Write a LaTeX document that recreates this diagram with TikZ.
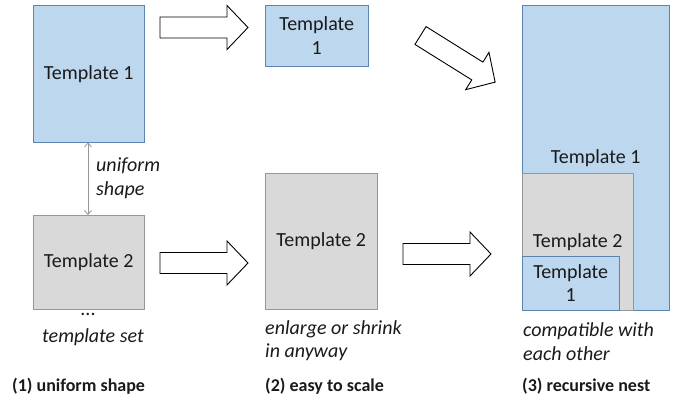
\documentclass[tikz,border=0pt]{standalone}
\usepackage{fontspec}
\setmainfont{Carlito}
\usepackage{tikz}
\usetikzlibrary{calc}
\usetikzlibrary{positioning}
\usetikzlibrary{arrows.meta}

\definecolor{tplblue}{HTML}{BDD7EE}
\definecolor{tplblueline}{HTML}{5B84B1}
\definecolor{tplgray}{HTML}{D9D9D9}
\definecolor{tplgrayline}{HTML}{979797}
\definecolor{tpltext}{HTML}{1A1A1A}

\begin{document}
\begin{tikzpicture}
  [
    x=1pt, y=-1pt,
    every node/.style = {inner sep=0pt, text=tpltext, font=\fontsize{20}{23.5}\selectfont},
    blueT/.style  = {draw=tplblueline, fill=tplblue, anchor=north west, align=center},
    grayT/.style  = {draw=tplgrayline, fill=tplgray, anchor=north west, align=center},
    note/.style   = {anchor=west, align=left, font=\fontsize{20}{23.5}\selectfont\itshape},
    caption/.style = {anchor=west, font=\fontsize{18}{22}\selectfont\bfseries},
    blockarrow/.pic = {
      \draw[line width=0.9pt, fill=white, line join=miter]
        (0,-10.5) -- (67,-10.5) -- (67,-22) -- (88,0) -- (67,22) -- (67,10.5) -- (0,10.5) -- cycle;
    },
  ]

  \useasboundingbox (0,0) rectangle (691,404);

  % (1) uniform shape
  \node (leftA) at (33,5)   [blueT, minimum width=111, minimum height=137] {Template 1};
  \node (leftB) at (33,215) [grayT, minimum width=111, minimum height=94] {Template 2};

  \draw[tplgrayline, line width=0.8pt, {Straight Barb[length=4pt,width=7pt]}-{Straight Barb[length=4pt,width=7pt]}]
    (leftA.south -| 88,0) -- (leftB.north -| 88,0);
  \node (uniform) at (96,178) [note] {uniform\\shape};

  \node (dots) at (88,314) {...};
  \node (tplset) at (42,337) [note] {template set};

  % (2) easy to scale
  \node (midA) at (265,5)   [blueT, minimum width=103, minimum height=61] {Template\\1};
  \node (midB) at (265,173) [grayT, minimum width=112, minimum height=136] {Template 2};
  \node (scale) at (265,340.5) [note] {enlarge or shrink\\in anyway};

  % (3) recursive nest
  \node (nestA) at (522,5)   [blueT, minimum width=147, minimum height=305] {Template 1};
  \node (nestB) at (522,173) [grayT, minimum width=111, minimum height=137] {Template 2};
  \node (nestC) at (522,256) [blueT, minimum width=97, minimum height=54] {Template\\1};
  \node (compat) at (523,341.5) [note] {compatible with\\each other};

  % block arrows
  \pic at (160,27.5) {blockarrow};
  \pic at (160,263) {blockarrow};
  \pic at (403,254) {blockarrow};
  \pic[rotate=-32] at (420.5,35.5) {blockarrow};

  % captions
  \node (capA) at (12,386)  [caption] {(1) uniform shape};
  \node (capB) at (265,386) [caption] {(2) easy to scale};
  \node (capC) at (522,386) [caption] {(3) recursive nest};

\end{tikzpicture}
\end{document}
